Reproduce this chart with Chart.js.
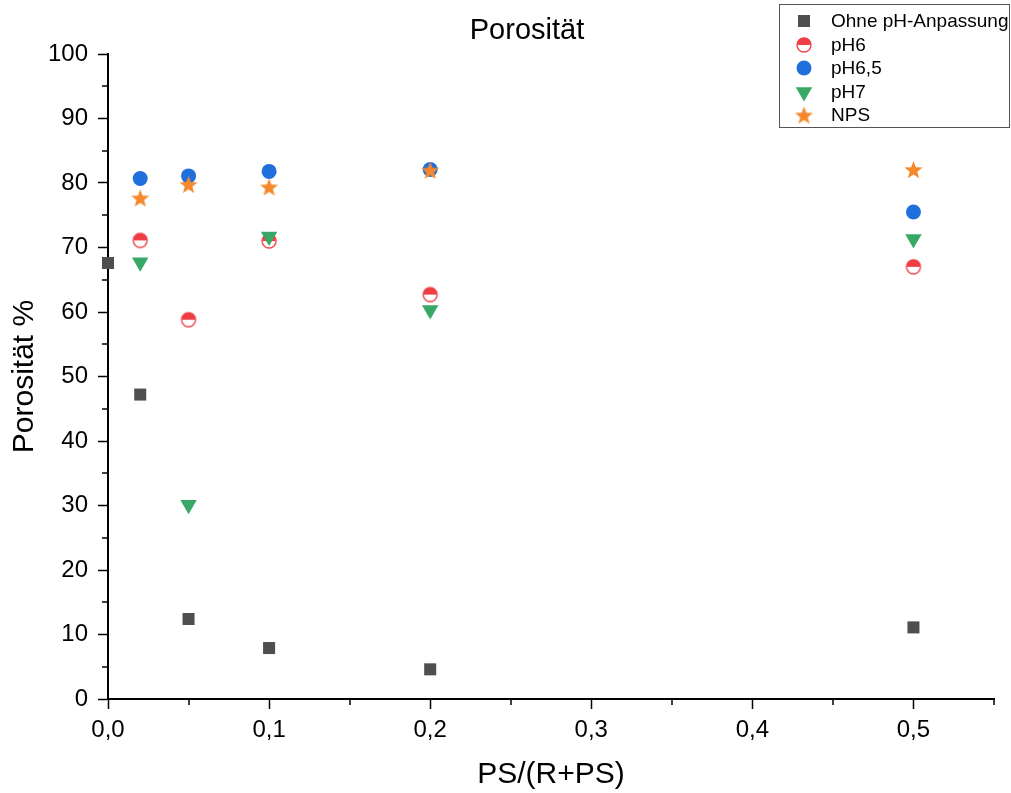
<!DOCTYPE html>
<html>
<head>
<meta charset="utf-8">
<title>Porosität</title>
<script src="https://cdn.jsdelivr.net/npm/chart.js@4.4.1/dist/chart.umd.min.js"></script>
<style>
    html, body { margin: 0; padding: 0; background: #fff; }
    #wrap { width: 1011px; height: 793px; }
</style>
</head>
<body>
<div id="wrap"><canvas id="chart" width="1011" height="793"></canvas></div>
<script>
// --- Data ---
const ohneX = [0, 0.02, 0.05, 0.1, 0.2, 0.5];
const ohneY = [67.6, 47.2, 12.4, 7.9, 4.6, 11.1];

const phX = [0.02, 0.05, 0.1, 0.2, 0.5];
const ph6Y = [71.1, 58.8, 71.0, 62.7, 67.0];
const ph65Y = [80.7, 81.1, 81.8, 82.1, 75.5];
const ph7Y = [67.7, 30.1, 71.7, 60.3, 71.3];
const npsY = [77.7, 79.8, 79.4, 82.0, 82.1];

const seriesNames = ['Ohne pH-Anpassung', 'pH6', 'pH6,5', 'pH7', 'NPS'];

const xTickValues = [0, 0.1, 0.2, 0.3, 0.4, 0.5];
const yTickValues = [0, 10, 20, 30, 40, 50, 60, 70, 80, 90, 100];
const xMinorValues = [0.05, 0.15, 0.25, 0.35, 0.45, 0.55];
const yMinorValues = [5, 15, 25, 35, 45, 55, 65, 75, 85, 95];

const FONT = 'Arial, "Liberation Sans", sans-serif';
const COLORS = {
    ohne: '#4f4f4f',
    ph6: '#ef3e44',
    ph65: '#1f6fdc',
    ph7: '#38a867',
    nps: '#f5882a'
};

// --- Custom marker images ---
function makeHalfCircle(color, r) {
    const size = Math.ceil(r * 2 + 4);
    const c = document.createElement('canvas');
    c.width = size; c.height = size;
    const g = c.getContext('2d');
    const m = size / 2;
    g.fillStyle = '#fff';
    g.beginPath(); g.arc(m, m, r, 0, Math.PI * 2); g.fill();
    g.fillStyle = color;
    g.beginPath(); g.arc(m, m, r, Math.PI, Math.PI * 2); g.closePath(); g.fill();
    g.strokeStyle = color;
    g.lineWidth = 1.3;
    g.beginPath(); g.arc(m, m, r, 0, Math.PI * 2); g.stroke();
    return c;
}

function makeStar(color, outer, inner) {
    const size = Math.ceil(outer * 2 + 2);
    const c = document.createElement('canvas');
    c.width = size; c.height = size;
    const g = c.getContext('2d');
    const m = size / 2;
    g.fillStyle = color;
    g.beginPath();
    for (let i = 0; i < 10; i++) {
        const rad = i % 2 === 0 ? outer : inner;
        const a = -Math.PI / 2 + i * Math.PI / 5;
        const px = m + Math.cos(a) * rad;
        const py = m + 1 + Math.sin(a) * rad;
        if (i === 0) g.moveTo(px, py); else g.lineTo(px, py);
    }
    g.closePath();
    g.fill();
    return c;
}

const halfCircle = makeHalfCircle(COLORS.ph6, 7);
const starImg = makeStar(COLORS.nps, 9.5, 4);

function toPoints(xs, ys) {
    return xs.map((x, i) => ({ x: x, y: ys[i] }));
}

// --- Plugins ---
const minorTicks = {
    id: 'minorTicks',
    afterDraw(chart) {
        const ctx = chart.ctx;
        const area = chart.chartArea;
        const sx = chart.scales.x, sy = chart.scales.y;
        ctx.save();
        ctx.strokeStyle = '#000';
        ctx.lineWidth = 1.5;
        ctx.beginPath();
        xMinorValues.forEach(v => {
            const px = Math.round(sx.getPixelForValue(v));
            ctx.moveTo(px, area.bottom);
            ctx.lineTo(px, area.bottom + 6);
        });
        yMinorValues.forEach(v => {
            const py = Math.round(sy.getPixelForValue(v));
            ctx.moveTo(area.left, py);
            ctx.lineTo(area.left - 6, py);
        });
        ctx.stroke();
        ctx.restore();
    }
};

const plotTitle = {
    id: 'plotTitle',
    afterDraw(chart) {
        const ctx = chart.ctx;
        ctx.save();
        ctx.fillStyle = '#000';
        ctx.font = '29px ' + FONT;
        ctx.textAlign = 'center';
        ctx.textBaseline = 'middle';
        ctx.fillText('Porosität', 527, 31);
        ctx.restore();
    }
};

const boxLegend = {
    id: 'boxLegend',
    afterDraw(chart) {
        const ctx = chart.ctx;
        ctx.save();
        ctx.fillStyle = '#fff';
        ctx.fillRect(779, 4, 231, 124);
        ctx.strokeStyle = '#555';
        ctx.lineWidth = 1;
        ctx.strokeRect(779.5, 4.5, 230, 123);

        const rows = [21, 45, 68, 92, 115];
        const byLabel = {};
        chart.data.datasets.forEach(ds => { byLabel[ds.label] = ds; });
        seriesNames.forEach((name, i) => {
            const ds = byLabel[name];
            ctx.fillStyle = ds.backgroundColor;
            ctx.strokeStyle = ds.borderColor;
            ctx.lineWidth = ds.borderWidth || 0;
            Chart.helpers.drawPoint(ctx, {
                pointStyle: ds.pointStyle,
                radius: ds.pointRadius,
                rotation: ds.rotation || 0,
                borderWidth: ds.borderWidth || 0
            }, 804, rows[i]);
            ctx.fillStyle = '#000';
            ctx.font = '19px ' + FONT;
            ctx.textAlign = 'left';
            ctx.textBaseline = 'middle';
            ctx.fillText(name, 831, rows[i] + 1);
        });
        ctx.restore();
    }
};

// --- Chart ---
const ctx = document.getElementById('chart').getContext('2d');
new Chart(ctx, {
    type: 'scatter',
    data: {
        datasets: [
            {
                label: seriesNames[0],
                data: toPoints(ohneX, ohneY),
                pointStyle: 'rect',
                pointRadius: 8.5,
                backgroundColor: COLORS.ohne,
                borderColor: COLORS.ohne,
                borderWidth: 0,
                order: 4
            },
            {
                label: seriesNames[1],
                data: toPoints(phX, ph6Y),
                pointStyle: halfCircle,
                pointRadius: 7,
                backgroundColor: COLORS.ph6,
                borderColor: COLORS.ph6,
                borderWidth: 0,
                order: 3
            },
            {
                label: seriesNames[2],
                data: toPoints(phX, ph65Y),
                pointStyle: 'circle',
                pointRadius: 7.5,
                backgroundColor: COLORS.ph65,
                borderColor: COLORS.ph65,
                borderWidth: 0,
                order: 2
            },
            {
                label: seriesNames[3],
                data: toPoints(phX, ph7Y),
                pointStyle: 'triangle',
                rotation: 180,
                pointRadius: 9.5,
                backgroundColor: COLORS.ph7,
                borderColor: COLORS.ph7,
                borderWidth: 0,
                order: 1
            },
            {
                label: seriesNames[4],
                data: toPoints(phX, npsY),
                pointStyle: starImg,
                pointRadius: 9.5,
                backgroundColor: COLORS.nps,
                borderColor: COLORS.nps,
                borderWidth: 0,
                order: 0
            }
        ]
    },
    options: {
        responsive: false,
        animation: false,
        events: [],
        clip: false,
        layout: { padding: { top: 54, right: 17, left: 0, bottom: 0 } },
        plugins: {
            legend: { display: false },
            tooltip: { enabled: false },
            title: { display: false }
        },
        scales: {
            x: {
                type: 'linear',
                min: 0,
                max: 0.55,
                afterFit: s => { s.height = 94; },
                afterBuildTicks: s => { s.ticks = xTickValues.map(v => ({ value: v })); },
                border: { display: true, color: '#000', width: 2 },
                grid: { drawOnChartArea: false, drawTicks: true, tickLength: 10, tickWidth: 1.5, tickColor: '#000' },
                ticks: {
                    color: '#000',
                    padding: 7,
                    maxRotation: 0,
                    font: { family: FONT, size: 24 },
                    callback: v => v.toFixed(1).replace('.', ',')
                },
                title: {
                    display: true,
                    text: 'PS/(R+PS)',
                    color: '#000',
                    font: { family: FONT, size: 30 },
                    padding: { top: 0, bottom: 0 }
                }
            },
            y: {
                type: 'linear',
                min: 0,
                max: 100,
                afterFit: s => { s.width = 108; },
                afterBuildTicks: s => { s.ticks = yTickValues.map(v => ({ value: v })); },
                border: { display: true, color: '#000', width: 2 },
                grid: { drawOnChartArea: false, drawTicks: true, tickLength: 10, tickWidth: 1.5, tickColor: '#000' },
                ticks: {
                    color: '#000',
                    padding: 10,
                    font: { family: FONT, size: 24 },
                    callback: v => String(v)
                },
                title: {
                    display: true,
                    text: 'Porosität %',
                    color: '#000',
                    font: { family: FONT, size: 30 },
                    padding: { top: 7, bottom: 0 }
                }
            }
        }
    },
    plugins: [minorTicks, plotTitle, boxLegend]
});
</script>
</body>
</html>
